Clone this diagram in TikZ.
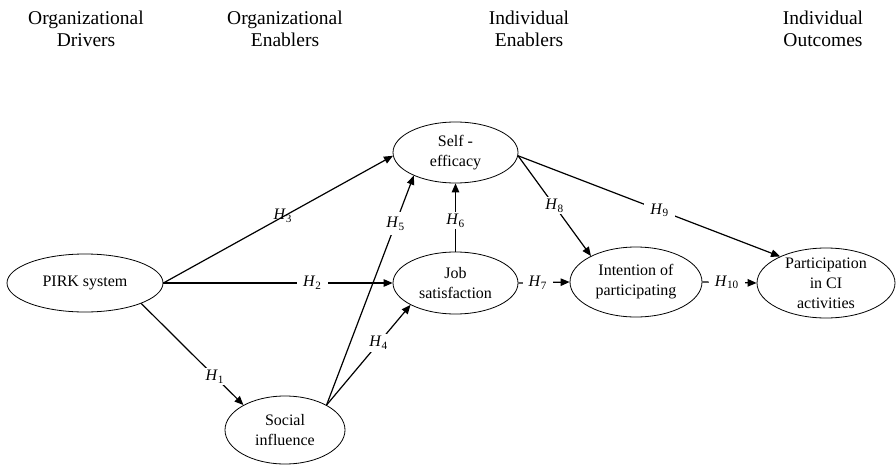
\documentclass[tikz,border=0pt]{standalone}
\usepackage{fontspec}
\setmainfont{Liberation Serif}
\usetikzlibrary{shapes.geometric,arrows.meta}
\tikzset{
  ell/.style={draw, ellipse, line width=0.8pt, inner sep=0pt},
  lbl/.style={font=\fontsize{16}{20}\selectfont, align=center, inner sep=0pt},
  hdr/.style={font=\fontsize{19.5}{22}\selectfont, align=center, inner sep=0pt, anchor=north},
  arr/.style={line width=1.2pt, -{Triangle[length=9pt,width=7.5pt]}},
  hyp/.style={fill=white, inner xsep=6pt, inner ysep=2pt, font=\fontsize{16}{18}\selectfont},
  hypn/.style={inner sep=1pt, font=\fontsize{16}{18}\selectfont},
}
\newcommand{\Hy}[1]{\textit{H}\textsubscript{#1}}
\begin{document}
\begin{tikzpicture}[x=1pt,y=-1pt]
\useasboundingbox (0,0) rectangle (896,465);
% headers
\node[hdr] (h1) at (86,11) {Organizational\\Drivers};
\node[hdr] (h2) at (285,11) {Organizational\\Enablers};
\node[hdr] (h3) at (529,11) {Individual\\Enablers};
\node[hdr] (h4) at (823,11) {Individual\\Outcomes};
% ellipses
\node[ell, minimum width=156pt, minimum height=58pt, label={[lbl]center:PIRK system}] (pirk) at (85,283) {};
\node[ell, minimum width=120pt, minimum height=68pt, label={[lbl]center:Social\\influence}] (si) at (285,430) {};
\node[ell, minimum width=125pt, minimum height=61pt, label={[lbl]center:Self -\\efficacy}] (se) at (455.5,152.5) {};
\node[ell, minimum width=125pt, minimum height=62pt, label={[lbl]center:Job\\satisfaction}] (js) at (455.5,283) {};
\node[ell, minimum width=132pt, minimum height=70pt, label={[lbl]center:Intention of\\participating}] (int) at (636,282) {};
\node[ell, minimum width=138pt, minimum height=70pt, label={[lbl]center:Participation\\in CI\\activities}] (part) at (826,283) {};
% connectors
\draw[arr] (pirk.east) -- node[hypn, pos=0.52, above=-7pt] {\Hy{3}} (se.183);
\draw[arr] (pirk.east) -- node[hyp, pos=0.65] {\Hy{2}} (js.west);
\draw[arr] (pirk.340) -- node[hyp, pos=0.72] {\Hy{1}} (si.149);
\draw[arr] (si.31) -- node[hyp, inner xsep=2pt, inner ysep=5pt, pos=0.79] {\Hy{5}} (se.209);
\draw[arr] (si.31) -- node[hyp, pos=0.62] {\Hy{4}} (js.206);
\draw[arr] (js.north) -- node[hyp, pos=0.45] {\Hy{6}} (se.south);
\draw[arr] (js.east) -- node[hyp, pos=0.38] {\Hy{7}} (int.west);
\draw[arr] (se.357) -- node[hyp, pos=0.5] {\Hy{8}} (int.150);
\draw[arr] (se.357) -- node[hyp, pos=0.54] {\Hy{9}} (part.150);
\draw[arr] (int.east) -- node[hyp, pos=0.45] {\Hy{10}} (part.west);
\end{tikzpicture}
\end{document}
